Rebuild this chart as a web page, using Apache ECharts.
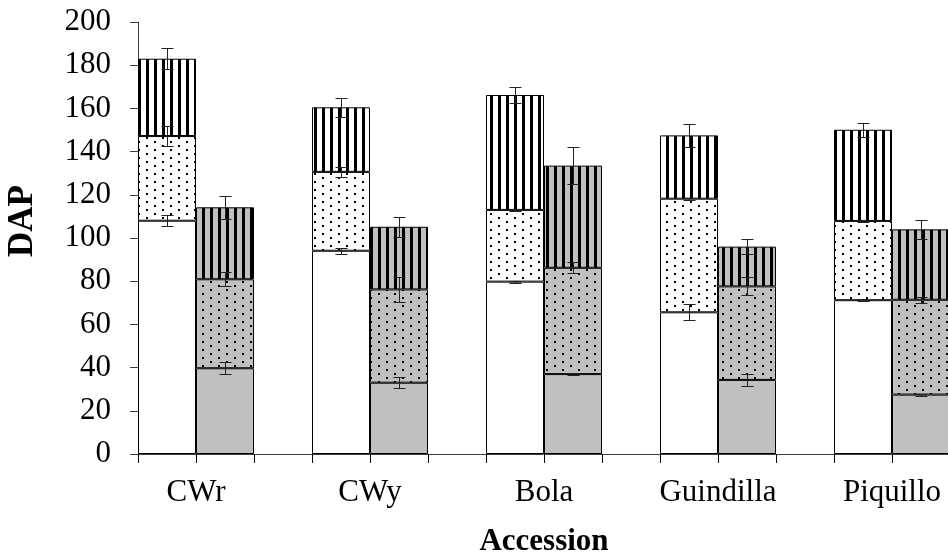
<!DOCTYPE html>
<html><head><meta charset="utf-8">
<script src="https://cdn.jsdelivr.net/npm/echarts@6/dist/echarts.min.js"></script>
<style>html,body{margin:0;padding:0;background:#fff}#c{width:948px;height:553px}</style>
</head><body><div id="c"></div>
<script>
// ---- data ----
const categories = ['CWr', 'CWy', 'Bola', 'Guindilla', 'Piquillo'];
// left (white) bars: segment durations (DAP)
const whiteBottom = [108, 94.1, 79.8, 65.6, 71.2];
const whiteMiddle = [39.2, 36.5, 33.2, 52.6, 36.7];
const whiteTop    = [35.8, 29.9, 53.2, 29.3, 42.2];
// right (grey) bars
const greyBottom  = [39.7, 33.0, 37.0, 34.3, 27.5];
const greyMiddle  = [41.2, 43.2, 49.2, 43.3, 43.9];
const greyTop     = [33.3, 29.0, 47.3, 18.4, 32.6];
// error bars (+/-) at top of each segment
const whiteBottomErr = [2.6, 1.5, 0.5, 3.7, 0.5];
const whiteMiddleErr = [4.6, 2.3, 0.5, 0.5, 0.5];
const whiteTopErr    = [4.8, 4.4, 3.9, 5.3, 3.3];
const greyBottomErr  = [2.8, 2.6, 0.5, 2.8, 0.5];
const greyMiddleErr  = [3.3, 5.7, 2.5, 4.2, 1.4];
const greyTopErr     = [5.2, 4.6, 8.7, 3.5, 4.5];
const yTickValues = [0, 20, 40, 60, 80, 100, 120, 140, 160, 180, 200];

// ---- layout helpers ----
const SLOTS_PER_CAT = 3;
const nSlots = categories.length * SLOTS_PER_CAT - 1;
const slotNames = Array.from({length: nSlots}, (_, i) => 's' + i);
function toSlots(arr, offset) {
  const out = new Array(nSlots).fill('-');
  arr.forEach((v, i) => { out[i * SLOTS_PER_CAT + offset] = v; });
  return out;
}
const labelMap = {};
categories.forEach((c, i) => { labelMap[i * SLOTS_PER_CAT + 1] = c; });

// ---- patterns ----
function makeDots(bg) {
  const c = document.createElement('canvas'); c.width = 16; c.height = 8;
  const g = c.getContext('2d');
  g.fillStyle = bg; g.fillRect(0, 0, 16, 8);
  g.fillStyle = '#000';
  g.fillRect(2, 1, 2, 2); g.fillRect(10, 5, 2, 2);
  return {image: c, repeat: 'repeat'};
}
function makeStripes(bg) {
  const c = document.createElement('canvas'); c.width = 8; c.height = 8;
  const g = c.getContext('2d');
  g.fillStyle = bg; g.fillRect(0, 0, 8, 8);
  g.fillStyle = '#000'; g.fillRect(2, 0, 3, 8);
  return {image: c, repeat: 'repeat'};
}
const WHITE = '#ffffff', GREY = '#c0c0c0';

function barSeries(name, arr, offset, color) {
  return {
    name, type: 'bar', stack: 'all', data: toSlots(arr, offset),
    barCategoryGap: '0%', barGap: '0%',
    itemStyle: {color, borderColor: '#000', borderWidth: 1},
    emphasis: {disabled: true}, animation: false
  };
}

// error bar data: [x on value axis, low, high]
const errData = [];
function addErr(segs, errs, offset) {
  categories.forEach((c, i) => {
    let top = 0;
    for (let k = 0; k < segs.length; k++) {
      top += segs[k][i];
      const e = errs[k][i];
      errData.push([i * SLOTS_PER_CAT + offset + 0.5, top - e, top + e]);
    }
  });
}
addErr([whiteBottom, whiteMiddle, whiteTop], [whiteBottomErr, whiteMiddleErr, whiteTopErr], 0);
addErr([greyBottom, greyMiddle, greyTop], [greyBottomErr, greyMiddleErr, greyTopErr], 1);

const FONT = "'Liberation Serif', 'Times New Roman', serif";
const chart = echarts.init(document.getElementById('c'), null, {renderer: 'canvas'});
chart.setOption({
  animation: false,
  backgroundColor: '#fff',
  grid: {left: 138, right: -2, top: 22, bottom: 99, containLabel: false, outerBoundsMode: 'none'},
  xAxis: [{
    type: 'category', data: slotNames, position: 'bottom', boundaryGap: true,
    axisLine: {lineStyle: {color: '#404040', width: 1}},
    axisTick: {show: true, length: 9, interval: 0, lineStyle: {color: '#000'}},
    axisLabel: {show: false}, splitLine: {show: false}
  }, {
    type: 'value', position: 'bottom', min: 0, max: nSlots, interval: 1,
    axisLine: {show: false}, axisTick: {show: false}, splitLine: {show: false},
    axisLabel: {
      formatter: v => labelMap[v] || '', margin: 23,
      fontSize: 31, fontFamily: FONT, color: '#000'
    },
    name: 'Accession', nameLocation: 'middle', nameGap: 72,
    nameTextStyle: {fontSize: 31, fontWeight: 'bold', fontFamily: FONT, color: '#000'}
  }],
  yAxis: {
    type: 'value', min: yTickValues[0], max: yTickValues[yTickValues.length - 1], interval: 20,
    axisLine: {show: true, lineStyle: {color: '#404040', width: 1}},
    axisTick: {show: true, length: 8, lineStyle: {color: '#404040'}},
    splitLine: {show: false},
    axisLabel: {margin: 27, fontSize: 31, fontFamily: FONT, color: '#000'},
    name: 'DAP', nameLocation: 'middle', nameRotate: 90, nameGap: 98,
    nameTextStyle: {fontSize: 35, fontWeight: 'bold', fontFamily: FONT, color: '#000', padding: [0, 0, 0, 34]}
  },
  series: [
    barSeries('wb', whiteBottom, 0, WHITE),
    barSeries('wm', whiteMiddle, 0, makeDots(WHITE)),
    barSeries('wt', whiteTop, 0, makeStripes(WHITE)),
    barSeries('gb', greyBottom, 1, GREY),
    barSeries('gm', greyMiddle, 1, makeDots(GREY)),
    barSeries('gt', greyTop, 1, makeStripes(GREY)),
    {
      type: 'custom', xAxisIndex: 1, yAxisIndex: 0, z: 10, data: errData,
      renderItem: (params, api) => {
        const x = api.value(0), lo = api.value(1), hi = api.value(2);
        const a = api.coord([x, lo]), b = api.coord([x, hi]);
        const cx = Math.round(a[0]) + 0.5, y1 = Math.round(a[1]) + 0.5, y2 = Math.round(b[1]) + 0.5;
        const h = 6, st = {stroke: '#222', lineWidth: 1};
        return {type: 'group', children: [
          {type: 'line', shape: {x1: cx, y1: y1, x2: cx, y2: y2}, style: st},
          {type: 'line', shape: {x1: cx - h, y1: y1, x2: cx + h, y2: y1}, style: st},
          {type: 'line', shape: {x1: cx - h, y1: y2, x2: cx + h, y2: y2}, style: st}
        ]};
      },
      silent: true, animation: false
    }
  ]
});
</script></body></html>
